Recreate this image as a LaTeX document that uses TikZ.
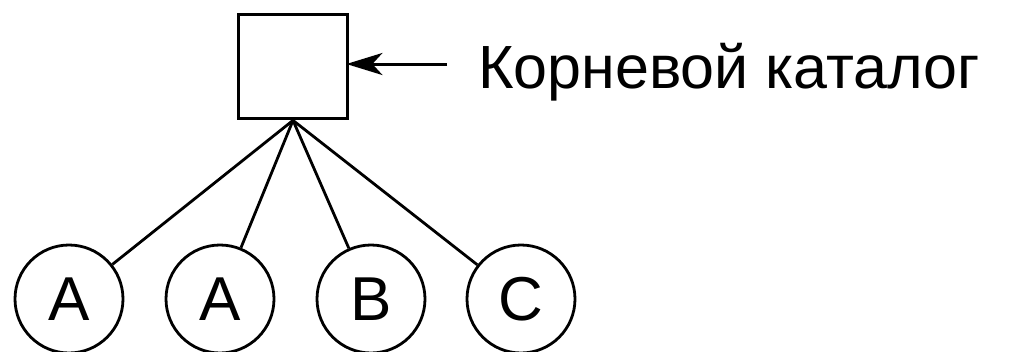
\documentclass[tikz,border=0pt]{standalone}
\usepackage{fontspec}
\setmainfont{Liberation Sans}
\usetikzlibrary{arrows.meta}
\begin{document}
\begin{tikzpicture}[x=1pt,y=-1pt,
  rootbox/.style={draw, line width=3.8pt, minimum width=109pt, minimum height=104pt, inner sep=0pt},
  entry/.style={draw, circle, line width=2.8pt, minimum size=108pt, inner sep=0pt, font=\fontsize{62}{62}\selectfont},
  link/.style={line width=2.8pt},
  pointer/.style={line width=3pt, shorten >=-3pt, -{Stealth[length=36pt, width=22pt, inset=10pt]}},
  caption/.style={anchor=base west, inner sep=0pt, font=\fontsize{61}{61}\selectfont}]
\useasboundingbox (0,0) rectangle (1014,351);
% root directory
\node[rootbox] (root) at (293,66.5) {};
% files in the root directory
\node[entry] (f1) at (69,299) {A};
\node[entry] (f2) at (220,299) {A};
\node[entry] (f3) at (371,299) {B};
\node[entry] (f4) at (521,299) {C};
\foreach \f in {f1,f2,f3,f4}
  \draw[link] (root.south) -- (\f);
% label and its pointer
\node[caption] (lbl) at (478,88) {Корневой каталог};
\coordinate (from) at (447,64);
\draw[pointer] (from) -- (root.east |- from);
\end{tikzpicture}
\end{document}
